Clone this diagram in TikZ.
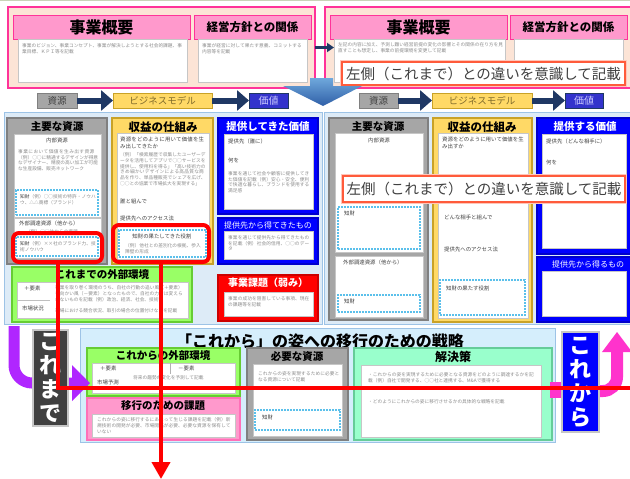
\documentclass[tikz,border=0pt]{standalone}
\usepackage{fontspec}
\setmainfont{Noto Sans CJK JP}
\usetikzlibrary{arrows.meta,calc}
\XeTeXlinebreaklocale "ja"
\XeTeXlinebreakskip=0pt plus 1pt
\definecolor{pinkB}{HTML}{FF3399}
\definecolor{pinkH}{HTML}{FF99CC}
\definecolor{peach}{HTML}{FCE4D6}
\definecolor{grayF}{HTML}{A6A6A6}
\definecolor{grayB}{HTML}{808080}
\definecolor{yelF}{HTML}{FFD966}
\definecolor{yelB}{HTML}{C9A227}
\definecolor{bluF}{HTML}{0000FF}
\definecolor{bluB}{HTML}{0000CC}
\definecolor{grnF}{HTML}{99FF66}
\definecolor{grnB}{HTML}{66CC33}
\definecolor{redF}{HTML}{FF0000}
\definecolor{mintF}{HTML}{99FFCC}
\definecolor{mintB}{HTML}{66CC99}
\definecolor{panelF}{HTML}{DDEBF7}
\definecolor{panelB}{HTML}{9DC3E6}
\definecolor{botF}{HTML}{D5EEFC}
\definecolor{navy}{HTML}{1F3864}
\definecolor{callB}{HTML}{FF5B3B}
\definecolor{dotB}{HTML}{5BC0EB}
\definecolor{txtD}{HTML}{404040}
\definecolor{txtL}{HTML}{8C8C8C}
\definecolor{purp}{HTML}{B026FF}
\definecolor{pinkA}{HTML}{FF33CC}
\definecolor{tagV}{HTML}{3333CC}
\definecolor{tagVt}{HTML}{CCCCFF}
\definecolor{tagYt}{HTML}{7F6A2A}
\definecolor{topline}{HTML}{C8D4B8}
\definecolor{arrT}{HTML}{6FA8DC}
\definecolor{arrB}{HTML}{2F5FA7}
\newcommand\bx[7]{\node[#6,anchor=north west,minimum width={(#4)-(#2)},minimum height={(#5)-(#3)},inner sep=0pt,outer sep=0pt] (#1) at (#2,#3) {#7};}
\tikzset{
  pinkouter/.style={draw=pinkB,fill=peach,line width=1.5pt},
  pinkhead/.style={draw=pinkB,fill=pinkH,line width=1pt},
  wbox/.style={draw=gray!45,fill=white,line width=0.5pt},
  graybox/.style={draw=grayB,fill=grayF,line width=1.2pt},
  yelbox/.style={draw=yelB,fill=yelF,line width=1.2pt},
  blubox/.style={draw=bluB,fill=bluF,line width=1.2pt},
  grnbox/.style={draw=grnB,fill=grnF,line width=1.2pt},
  redbox/.style={draw=redF!80!black,fill=redF,line width=1.2pt},
  mintbox/.style={draw=mintB,fill=mintF,line width=1.2pt},
  pinkbox/.style={draw=pinkB!70,fill=pinkH,line width=1.2pt},
  panel/.style={draw=panelB,fill=panelF,line width=1pt},
  dotbx/.style={draw=dotB,dashed,dash pattern=on 1.8pt off 1.2pt,line width=1.1pt,fill=white},
  small/.style={anchor=north west,inner sep=0pt,align=left,font=\fontsize{4.7}{5.9}\selectfont,text=txtL},
  lbl/.style={anchor=north west,inner sep=0pt,align=left,font=\fontsize{5.4}{6.6}\selectfont,text=txtD},
  hd/.style={font=\bfseries\fontsize{10.5}{12}\selectfont,text=black},
  hdw/.style={font=\bfseries\fontsize{10.5}{12}\selectfont,text=white},
  callout/.style={draw=callB,line width=1.5pt,fill=white,preaction={draw=callB!35,line width=4.5pt},
     font=\fontsize{14.5}{16}\selectfont,text=txtD,inner sep=0pt},
  navyar/.style={draw=navy,line width=6pt,-{Triangle[length=12pt,width=20pt]}},
  redline/.style={draw=redF,line width=4pt},
  vlab/.style={font=\bfseries\fontsize{22}{24}\selectfont,text=white,align=center}
}
\begin{document}
\begin{tikzpicture}[x=1pt,y=-1pt]
\useasboundingbox (0,0) rectangle (630,479);
\clip (0,0) rectangle (630,479);
\fill[white] (0,0) rectangle (630,479);
\draw[topline,line width=1.5pt] (0,0.7) -- (630,0.7);
% ===== top boxes =====
\bx{tl}{8}{7}{315}{88}{pinkouter}{}
\bx{tlh1}{13}{15}{190}{39}{pinkhead,font=\bfseries\fontsize{16}{18}\selectfont}{事業概要}
\bx{tlh2}{194}{15}{311}{39}{pinkhead,font=\bfseries\fontsize{11.5}{13}\selectfont}{経営方針との関係}
\bx{tlw1}{18}{39}{187}{82}{wbox}{}
\bx{tlw2}{198}{39}{307}{82}{wbox}{}
\node[small,text width=160pt] (tls1) at (22,43) {事業のビジョン、事業コンセプト、事業が解決しようとする社会的課題、事業目標、ＫＰＩ等を記載};
\node[small,text width=100pt] (tls2) at (202,43) {事業が経営に対して果たす意義、コミットする内容等を記載};
\bx{tr}{325}{7}{640}{88}{pinkouter}{}
\bx{trh1}{330}{15}{507}{39}{pinkhead,font=\bfseries\fontsize{16}{18}\selectfont}{事業概要}
\bx{trh2}{510}{15}{627}{39}{pinkhead,font=\bfseries\fontsize{11.5}{13}\selectfont}{経営方針との関係}
\bx{trw1}{334}{39}{505}{82}{wbox}{}
\bx{trw2}{514}{39}{623}{82}{wbox}{}
\node[small,text width=165pt] (trs1) at (338,42) {左記の内容に加え、予測し難い経営前提の変化の影響とその関係の在り方を見直すことも想定し、事業の前提環境を変更して記載};
\draw[navy,line width=2.5pt,-{Triangle[length=7pt,width=9pt]}] (tl.east) -- (trw1.west |- tl.east);
\bx{co1}{342}{62}{625}{85}{callout}{左側（これまで）との違いを意識して記載}
% big blue down arrow
\shade[top color=arrT,bottom color=arrB] (310,78) -- (333,78) -- (333,86) -- (362,86) -- (323,106) -- (283,86) -- (310,86) -- cycle;
% ===== tags =====
\bx{tg1}{37}{93}{77}{108}{draw=grayB,fill=grayF,line width=1pt,text=txtD,font=\fontsize{9.5}{11}\selectfont}{資源}
\bx{tg2}{113}{93}{212}{108}{draw=yelB,fill=yelF,line width=1pt,text=tagYt,font=\fontsize{9.5}{11}\selectfont}{ビジネスモデル}
\bx{tg3}{249}{93}{288}{108}{draw=navy,fill=tagV,line width=1pt,text=tagVt,font=\fontsize{10}{11}\selectfont}{価値}
\draw[navyar] (tg1.east) -- (tg2.west);
\draw[navyar] (tg2.east) -- (tg3.west);
\bx{tg4}{359}{93}{398}{108}{draw=grayB,fill=grayF,line width=1pt,text=txtD,font=\fontsize{9.5}{11}\selectfont}{資源}
\bx{tg5}{432}{93}{532}{108}{draw=yelB,fill=yelF,line width=1pt,text=tagYt,font=\fontsize{9.5}{11}\selectfont}{ビジネスモデル}
\bx{tg6}{565}{93}{603}{108}{draw=navy,fill=tagV,line width=1pt,text=tagVt,font=\fontsize{10}{11}\selectfont}{価値}
\draw[navyar] (tg4.east) -- (tg5.west);
\draw[navyar] (tg5.east) -- (tg6.west);
% ===== middle panels =====
\bx{pl}{4}{112}{322}{324}{panel}{}
\bx{pr}{324}{112}{640}{324}{panel}{}
% left: resources
\bx{lg}{7}{118}{107}{264}{graybox}{}
\node[hd] (lgh) at (57,127) {主要な資源};
\bx{lgw1}{14}{134}{101}{217}{wbox}{}
\node[lbl,anchor=north] (lgl1) at (57,138) {内部資源};
\node[small,text width=80pt] (lgs1) at (18,149) {事業において価値を生み出す資源（例）○○に精通するデザインが得意なデザイナー、精度の高い加工が可能な生産設備、販売ネットワーク};
\bx{lgd1}{16}{190}{98}{215}{dotbx}{}
\node[small,text width=76pt] (lgs2) at (20,194) {{\color{txtD}知財}（例）○○技術の特許・ノウハウ、△△商標（ブランド）};
\bx{lgw2}{14}{218}{101}{258}{wbox}{}
\node[lbl] (lgl2) at (19,221) {外部調達資源（他から）};
\node[small] (lgs3) at (26,229) {（例）○○社からの資源};
\bx{lgd2}{16}{237}{98}{256}{dotbx}{}
\node[small,text width=76pt] (lgs4) at (20,241) {{\color{txtD}知財}（例）××社のブランド力、技術ノウハウ};
% left: business model
\bx{ly}{112}{118}{213}{264}{yelbox}{}
\node[hd,font=\bfseries\fontsize{11.5}{13}\selectfont] (lyh) at (163,127) {収益の仕組み};
\bx{lyw}{117}{133}{209}{259}{wbox}{}
\node[lbl,text width=86pt] (lyl1) at (120,137) {資源をどのように用いて価値を生み出してきたか};
\node[small,text width=86pt] (lys1) at (120,152) {（例）「検索履歴で収集したユーザーデータを活用してアプリで○○サービスを提供し、使用料を得る」「高い技術力のきめ細かいデザインによる高品質な商品を作り、単品種販売でシェアを広げ、○○との協業で市場拡大を実現する」};
\node[lbl] (lyl2) at (120,199) {誰と組んで};
\node[lbl] (lyl3) at (120,216) {提供先へのアクセス法};
\bx{lyd}{119}{230}{206}{257}{dotbx}{}
\node[lbl,anchor=north] (lyl4) at (162,234) {知財の果たしてきた役割};
\node[small,text width=76pt] (lys2) at (125,243) {（例）他社との差別化の根拠、参入障壁の形成};
% left: value
\bx{lb1}{218}{118}{318}{214}{blubox}{}
\node[hdw] (lb1h) at (268,127) {提供してきた価値};
\bx{lb1w}{224}{134}{313}{209}{wbox}{}
\node[lbl] (lb1l1) at (228,139) {提供先（誰に）};
\node[lbl] (lb1l2) at (228,158) {何を};
\node[small,text width=82pt] (lb1s) at (228,171) {事業を通じて社会や顧客に提供してきた価値を記載（例）安心・安全、便利で快適な暮らし、ブランドを使用する満足感};
\bx{lb2}{218}{218}{318}{264}{blubox}{}
\node[hdw,font=\fontsize{8}{9}\selectfont] (lb2h) at (268,225) {提供先から得てきたもの};
\bx{lb2w}{224}{231}{313}{259}{wbox}{}
\node[small,text width=82pt] (lb2s) at (228,235) {事業を通じて提供先から得てきたものを記載（例）社会的信用、○○のデータ};
% left: environment
\bx{lgr}{12}{267}{192}{322}{grnbox}{}
\node[hd] (lgrh) at (102,275) {これまでの外部環境};
\bx{lgrw}{17}{282}{188}{318}{wbox}{}
\node[lbl] (lgrl1) at (24,286) {＋要素};
\node[lbl] (lgrl2) at (22,306) {市場状況};
\draw[gray!50,line width=0.5pt] (lgrw.west |- 0,300) -- (50,300);
\node[small,text width=128pt] (lgrs1) at (55,285) {事業を取り巻く環境のうち、自社の行動の追い風（＋要素）や向かい風（－要素）となったもので、自社の力では変えられないものを記載（例）政治、経済、社会、技術等};
\node[small,text width=128pt] (lgrs2) at (55,308) {市場における競合状況、取引の場合の位置付けなどを記載};
% left: issues
\bx{lr}{218}{275}{318}{321}{redbox}{}
\node[hdw,font=\bfseries\fontsize{10}{11}\selectfont] (lrh) at (268,283) {事業課題（弱み）};
\bx{lrw}{224}{292}{313}{316}{wbox}{}
\node[small,text width=82pt] (lrs) at (228,296) {事業の成功を阻害している事項、現在の課題等を記載};
% right: resources
\bx{rg}{329}{118}{428}{320}{graybox}{}
\node[hd] (rgh) at (378,127) {主要な資源};
\bx{rgw1}{335}{133}{423}{252}{wbox}{}
\node[lbl,anchor=north] (rgl1) at (379,138) {内部資源};
\bx{rgd1}{338}{207}{420}{249}{dotbx}{}
\node[lbl] (rgl2) at (344,211) {知財};
\bx{rgw2}{335}{256}{423}{317}{wbox}{}
\node[lbl] (rgl3) at (343,260) {外部調達資源（他から）};
\bx{rgd2}{338}{295}{420}{312}{dotbx}{}
\node[lbl] (rgl4) at (344,299) {知財};
% right: business model
\bx{ry}{433}{118}{532}{322}{yelbox}{}
\node[hd,font=\bfseries\fontsize{11.5}{13}\selectfont] (ryh) at (482,127) {収益の仕組み};
\bx{ryw}{438}{133}{528}{318}{wbox}{}
\node[lbl,text width=82pt] (ryl1) at (442,137) {資源をどのように用いて価値を生み出すか};
\node[lbl] (ryl2) at (444,215) {どんな相手と組んで};
\node[lbl] (ryl3) at (444,247) {提供先へのアクセス法};
\bx{ryd}{440}{280}{525}{315}{dotbx}{}
\node[lbl] (ryl4) at (446,286) {知財の果たす役割};
% right: value
\bx{rb1}{537}{118}{640}{254}{blubox}{}
\node[hdw] (rb1h) at (585,127) {提供する価値};
\bx{rb1w}{542}{134}{626}{248}{wbox}{}
\node[lbl] (rb1l1) at (546,139) {提供先（どんな相手に）};
\node[lbl] (rb1l2) at (546,160) {何を};
\bx{rb2}{537}{257}{640}{322}{blubox}{}
\node[hdw,font=\fontsize{8}{9}\selectfont] (rb2h) at (588,264) {提供先から得るもの};
\bx{rb2w}{542}{271}{626}{316}{wbox}{}
\bx{co2}{343}{176}{625}{202}{callout}{左側（これまで）との違いを意識して記載}
% ===== bottom =====
\bx{pb}{80}{328}{555}{442}{draw=panelB,fill=botF,line width=1pt}{}
\node[font=\bfseries\fontsize{16}{18}\selectfont] (pbt) at (320,341) {「これから」の姿への移行のための戦略};
\bx{bgr}{87}{348}{240}{396}{grnbox}{}
\node[hd] (bgrh) at (163,356) {これからの外部環境};
\bx{bgrw}{92}{363}{235}{393}{wbox}{}
\node[lbl] (bgrl1) at (100,366) {＋要素};
\node[lbl] (bgrl2) at (178,366) {－要素};
\draw[gray!60,line width=0.5pt] (170,363) -- (170,374);
\node[small] (bgrs) at (133,375) {将来の趨勢の変化を予測して記載};
\node[lbl] (bgrl3) at (97,380) {市場予測};
\bx{bpk}{87}{398}{240}{440}{pinkbox}{}
\node[hd] (bpkh) at (163,406) {移行のための課題};
\bx{bpkw}{92}{414}{235}{437}{wbox}{}
\node[small,text width=134pt] (bpks) at (97,417) {これからの姿に移行するにあたって生じる課題を記載（例）新規技術の開発が必要、市場開拓が必要、必要な資源を保有していない};
\bx{bgy}{247}{348}{348}{440}{graybox}{}
\node[hd] (bgyh) at (297,357) {必要な資源};
\bx{bgyw}{253}{364}{342}{436}{wbox}{}
\node[small,text width=82pt] (bgys) at (258,371) {これからの姿を実現するために必要となる資源について記載};
\bx{bgyd}{255}{410}{340}{430}{dotbx}{}
\node[lbl] (bgyl) at (262,415) {知財};
\bx{bmt}{354}{348}{552}{440}{mintbox}{}
\node[hd,font=\bfseries\fontsize{12}{13}\selectfont] (bmth) at (453,357) {解決策};
\bx{bmtw}{361}{365}{541}{437}{wbox}{}
\node[small,text width=166pt] (bmts1) at (368,372) {・これからの姿を実現するために必要となる資源をどのように調達するかを記載（例）自社で開発する、○○社と連携する、M\&Aで獲得する};
\node[small,text width=166pt] (bmts2) at (368,399) {・どのようにこれからの姿に移行させるかの具体的な戦略を記載};
% purple arrow + これまで
\draw[purp,line width=11pt,rounded corners=18pt] (14,326) -- (14,383) -- (74,383);
\fill[purp] (72,365) -- (90,383) -- (72,401) -- cycle;
\bx{km}{33}{330}{68}{426}{draw=gray!45,fill=txtD,line width=1.5pt,vlab}{こ\\れ\\ま\\で}
% pink arrow + これから
\fill[pinkA] (550,382) rectangle (564,398);
\draw[pinkA,line width=12pt,rounded corners=14pt] (597,391) -- (617,391) -- (617,350);
\fill[pinkA] (602,352) -- (632,352) -- (617,332) -- cycle;
\bx{kk}{562}{332}{599}{432}{draw=gray!45,fill=bluF,line width=1.5pt,vlab}{こ\\れ\\か\\ら}
% ===== red annotations =====
\bx{hl1}{13}{233}{102}{262}{redline,rounded corners=6pt}{}
\bx{hl2}{113}{225}{209}{262}{redline,rounded corners=6pt}{}
\coordinate (re1) at (634,388);
\coordinate (re2) at (161,479);
\draw[redline] (hl1.south) |- (re1);
\draw[redline,-{Triangle[length=17pt,width=18pt]}] (hl2.south) -- (hl2.south |- re2);
\end{tikzpicture}
\end{document}
